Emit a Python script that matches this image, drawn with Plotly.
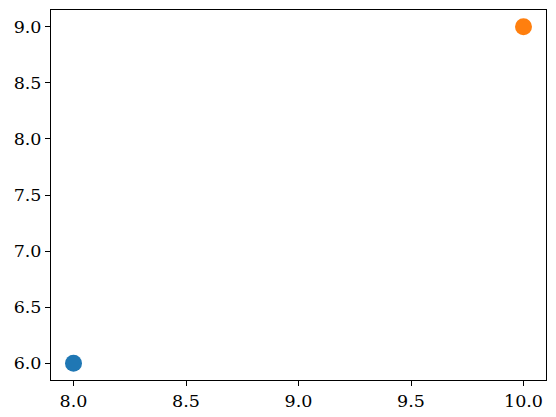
import plotly.graph_objects as go

# data
x_vals = [8, 10]
y_vals = [6, 9]
colors = ["#1f77b4", "#ff7f0e"]

fig = go.Figure()
for x, y, c in zip(x_vals, y_vals, colors):
    fig.add_trace(go.Scatter(x=[x], y=[y], mode="markers",
                             marker=dict(color=c, size=17), showlegend=False))

axis_style = dict(showgrid=False, zeroline=False, showline=True, linecolor="black",
                  linewidth=1, mirror=True, ticks="outside", ticklen=5,
                  tickcolor="black", tickformat=".1f", dtick=0.5)

fig.update_xaxes(range=[7.9, 10.1], **axis_style)
fig.update_yaxes(range=[5.85, 9.15], **axis_style)

# page body has an 8px margin, so the figure is shrunk to fit
fig.update_layout(
    width=548, height=409,
    margin=dict(l=43, r=10, t=2, b=37),
    paper_bgcolor="white", plot_bgcolor="white",
    font=dict(family="DejaVu Serif", size=17.5, color="black"),
)

fig.write_html("out.html")
